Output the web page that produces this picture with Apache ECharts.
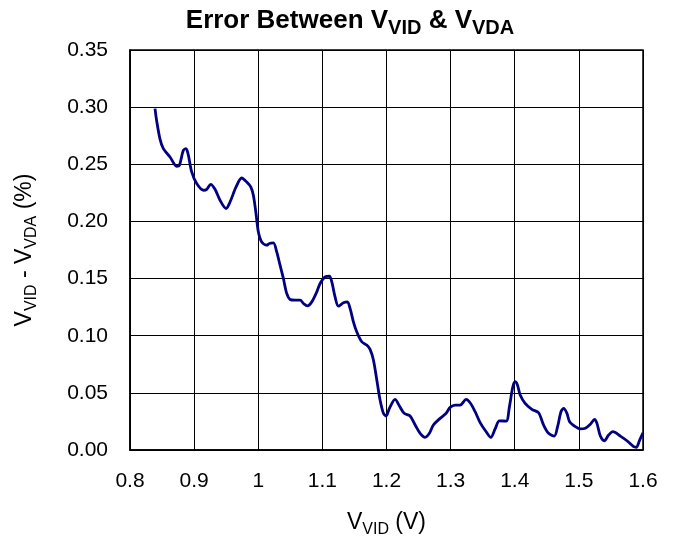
<!DOCTYPE html>
<html><head><meta charset="utf-8">
<script src="https://cdn.jsdelivr.net/npm/echarts@6/dist/echarts.min.js"></script>
<style>html,body{margin:0;padding:0;background:#fff}#c{width:677px;height:543px}</style>
</head><body><div id="c"></div>
<script>
const vVid = [0.839,0.8416,0.8468,0.852,0.8624,0.8728,0.877,0.8832,0.8874,0.891,0.8962,0.904,0.9144,0.9197,0.9259,0.9326,0.9404,0.9498,0.956,0.9654,0.9742,0.982,0.9883,0.9924,0.9965,1.0002,1.0054,1.0132,1.0173,1.0236,1.0288,1.034,1.0392,1.0444,1.0497,1.0575,1.0653,1.0705,1.0767,1.0835,1.0913,1.0965,1.1042,1.1109,1.1147,1.1198,1.125,1.1328,1.139,1.1432,1.1484,1.1536,1.1614,1.1692,1.1744,1.1796,1.1849,1.19,1.1952,1.1994,1.2046,1.2134,1.2202,1.2275,1.2368,1.2447,1.2525,1.2602,1.2669,1.2731,1.2836,1.293,1.2992,1.307,1.3148,1.3242,1.3304,1.3382,1.346,1.3554,1.3627,1.3694,1.3761,1.3866,1.3917,1.397,1.4006,1.4042,1.4085,1.4162,1.4267,1.4372,1.4449,1.4527,1.4617,1.4668,1.4721,1.4762,1.4814,1.4855,1.4945,1.5023,1.51,1.5179,1.5245,1.5282,1.5335,1.5397,1.5464,1.5532,1.5647,1.575,1.5854,1.5896,1.5948,1.6];
const errPct = [0.2987,0.288,0.272,0.2637,0.2564,0.2483,0.249,0.2622,0.2637,0.258,0.2433,0.2331,0.2273,0.2281,0.2325,0.2281,0.2185,0.2113,0.217,0.2302,0.238,0.2345,0.2302,0.2229,0.2069,0.1908,0.1821,0.1792,0.1807,0.1812,0.1733,0.1617,0.1501,0.137,0.1317,0.1311,0.1311,0.1282,0.1261,0.1296,0.1384,0.1457,0.1515,0.1521,0.1471,0.134,0.1259,0.1288,0.1296,0.1239,0.1122,0.1034,0.0947,0.0918,0.088,0.0787,0.0612,0.0437,0.0321,0.0297,0.0365,0.0443,0.0385,0.0321,0.0297,0.0219,0.0146,0.0111,0.0146,0.0219,0.0277,0.0321,0.0373,0.0393,0.0393,0.0443,0.0413,0.0335,0.0240,0.016,0.0111,0.0185,0.0255,0.0253,0.0379,0.0553,0.0597,0.0568,0.0481,0.0408,0.0356,0.0326,0.0219,0.0146,0.0122,0.0204,0.0335,0.0364,0.0321,0.0247,0.0204,0.0184,0.019,0.0225,0.0268,0.0233,0.0122,0.0081,0.0131,0.016,0.0122,0.0081,0.0029,0.0024,0.0087,0.0151];
const xTicks = {min:0.8, max:1.6, interval:0.1};
const yTicks = {min:0, max:0.35, interval:0.05};

const font = 'Liberation Sans, Arial, sans-serif';
const chart = echarts.init(document.getElementById('c'), null, {renderer:'canvas'});
const nameRich = {
  a:{fontFamily:font,fontSize:23,color:'#000',verticalAlign:'top',lineHeight:28},
  s:{fontFamily:font,fontSize:16,color:'#000',verticalAlign:'top',lineHeight:18,padding:[11,0,0,0]}
};
chart.setOption({
  animation:false,
  backgroundColor:'#fff',
  title:{
    text:'{a|Error Between V}{s|VID}{a| & V}{s|VDA}',
    left:350, top:8, padding:0, textAlign:'center',
    textStyle:{rich:{
      a:{fontFamily:font,fontSize:26,fontWeight:'bold',color:'#000',verticalAlign:'top',lineHeight:32},
      s:{fontFamily:font,fontSize:20,fontWeight:'bold',color:'#000',verticalAlign:'top',lineHeight:20,padding:[10,0,0,0]}
    }}
  },
  grid:{left:130,right:34,top:50,bottom:93,containLabel:false,outerBoundsMode:'none',show:true,borderColor:'#000',borderWidth:1.5},
  xAxis:{
    type:'value', min:xTicks.min, max:xTicks.max, interval:xTicks.interval,
    axisLine:{show:true,lineStyle:{color:'#000',width:1.5}},
    axisTick:{show:false},
    splitLine:{show:true,lineStyle:{color:'#000',width:1}},
    axisLabel:{color:'#000',fontFamily:font,fontSize:21,margin:21,
      formatter:v=>{const r=Math.round(v*10)/10; return r===1?'1':r.toFixed(1);}},
    name:'{a|V}{s|VID}{a| (V)}', nameLocation:'middle', nameGap:61,
    nameTextStyle:{rich:nameRich}
  },
  yAxis:{
    type:'value', min:yTicks.min, max:yTicks.max, interval:yTicks.interval,
    axisLine:{show:true,lineStyle:{color:'#000',width:1.5}},
    axisTick:{show:false},
    splitLine:{show:true,lineStyle:{color:'#000',width:1}},
    axisLabel:{color:'#000',fontFamily:font,fontSize:21,margin:22,formatter:v=>v.toFixed(2)},
    name:'{a|V}{s|VID}{a| - V}{s|VDA}{a| (%)}', nameLocation:'middle', nameGap:89, nameRotate:90,
    nameTextStyle:{rich:nameRich}
  },
  series:[{
    type:'line', data:vVid.map((x,i)=>[x,errPct[i]]), smooth:0.3, showSymbol:false,
    lineStyle:{color:'#000080',width:2.8}, clip:false
  }]
});
</script></body></html>
